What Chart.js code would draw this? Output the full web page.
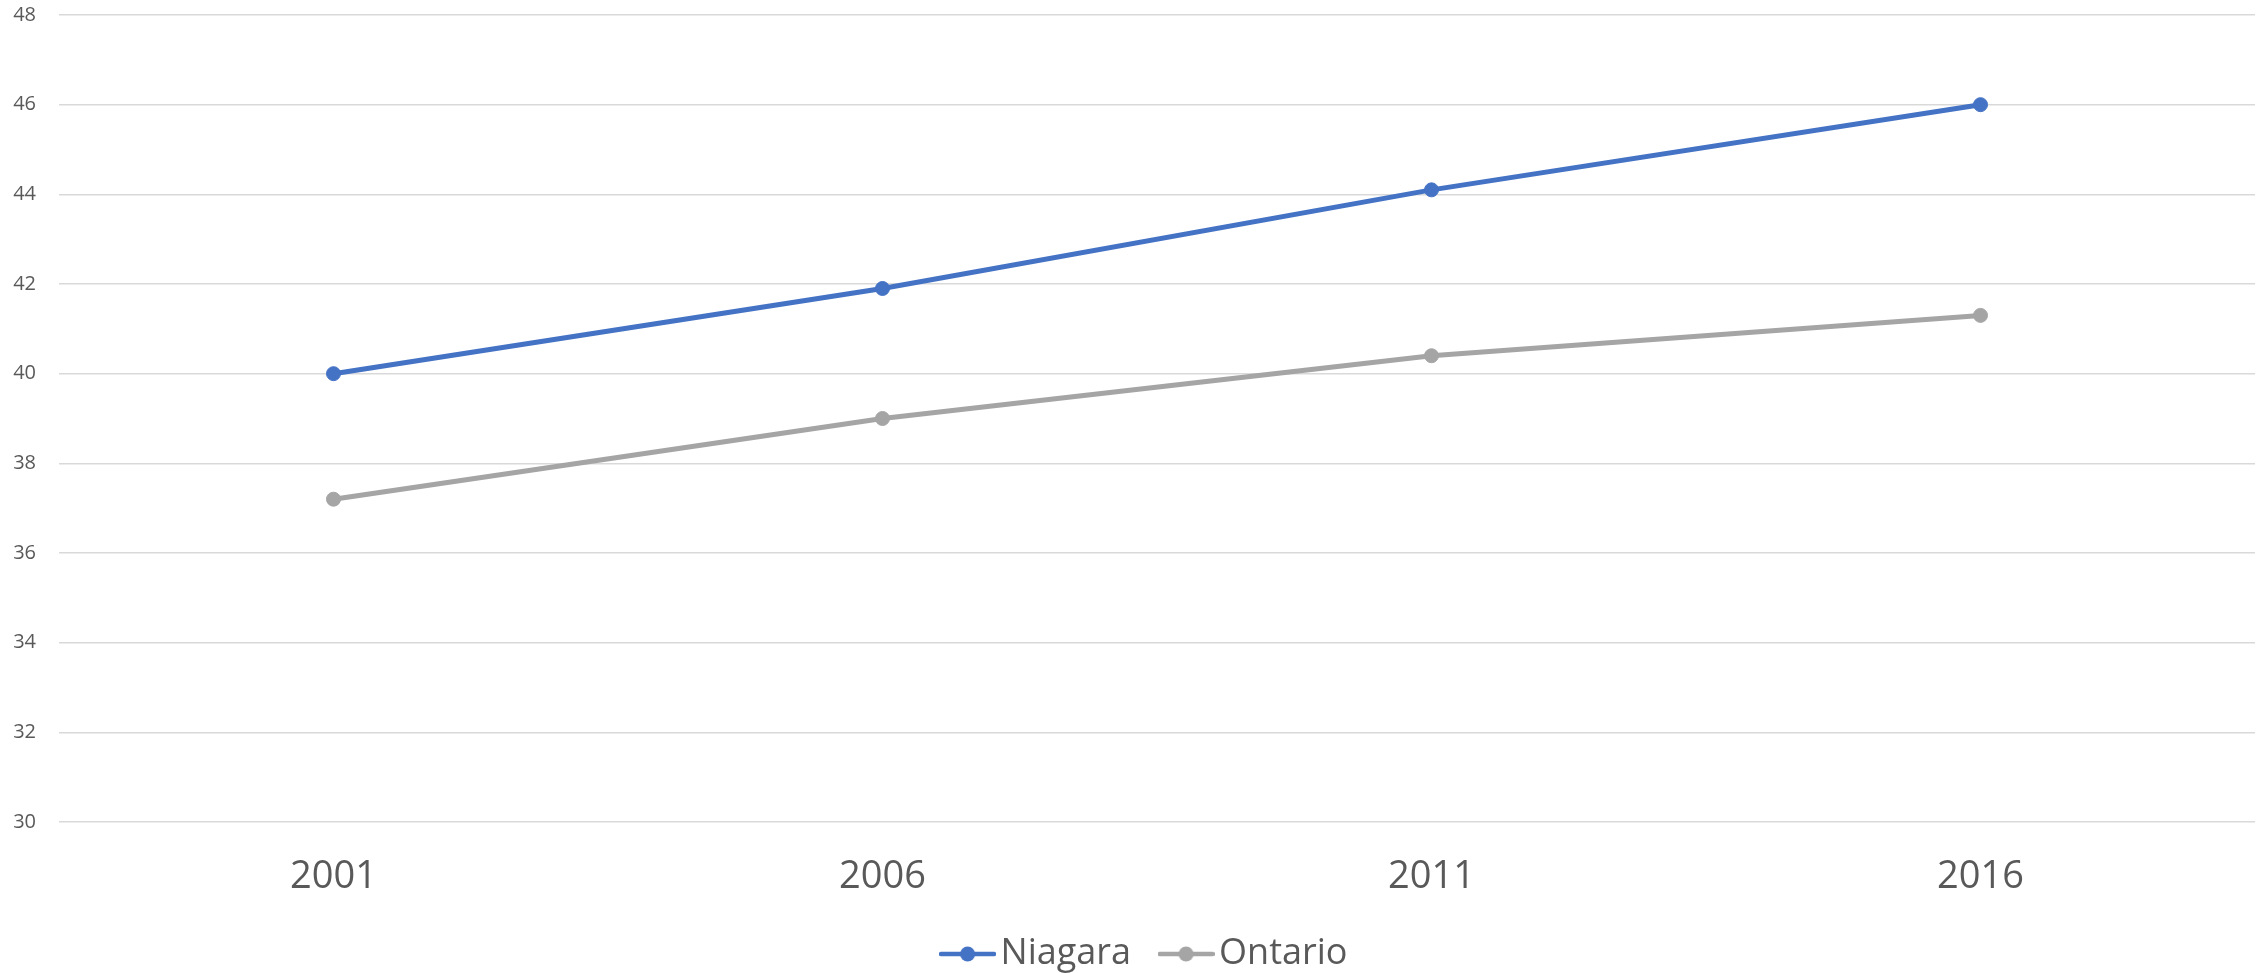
<!DOCTYPE html>
<html>
<head>
<meta charset="utf-8">
<script src="https://cdn.jsdelivr.net/npm/chart.js@4.4.1/dist/chart.umd.min.js"></script>
<style>
html,body{margin:0;padding:0;background:#fff;}
#wrap{width:2267px;height:973px;position:relative;}
</style>
</head>
<body>
<div id="wrap"><canvas id="c" width="2267" height="973"></canvas></div>
<script>
const categories = ["2001", "2006", "2011", "2016"];
const niagara = [40.0, 41.9, 44.1, 46.0];
const ontario = [37.2, 39.0, 40.4, 41.3];
const yMin = 30, yMax = 48, yStep = 2;

const BLUE = "#4472C4", GRAY = "#A5A5A5", TEXT = "#595959";
const FONT = "'Open Sans', 'Liberation Sans', sans-serif";

function legendIcon(color) {
  const c = document.createElement("canvas");
  c.width = 57; c.height = 18;
  const g = c.getContext("2d");
  g.strokeStyle = color; g.lineWidth = 4.5; g.lineCap = "round";
  g.beginPath(); g.moveTo(2, 9); g.lineTo(55, 9); g.stroke();
  g.fillStyle = color;
  g.beginPath(); g.arc(28.5, 9, 7.5, 0, Math.PI * 2); g.fill();
  return c;
}

new Chart(document.getElementById("c"), {
  type: "line",
  data: {
    labels: categories,
    datasets: [
      { label: "Niagara", data: niagara, borderColor: BLUE, backgroundColor: BLUE,
        borderWidth: 5, pointRadius: 7, pointBorderWidth: 1, pointBorderColor: BLUE,
        pointBackgroundColor: BLUE, tension: 0, pointStyle: "circle" },
      { label: "Ontario", data: ontario, borderColor: GRAY, backgroundColor: GRAY,
        borderWidth: 5, pointRadius: 7, pointBorderWidth: 1, pointBorderColor: GRAY,
        pointBackgroundColor: GRAY, tension: 0, pointStyle: "circle" }
    ]
  },
  options: {
    responsive: false,
    animation: false,
    layout: { padding: { top: 15, right: -33, left: 0, bottom: -9 } },
    plugins: {
      tooltip: { enabled: false },
      legend: {
        position: "bottom",
        labels: {
          usePointStyle: true,
          boxWidth: 30,
          boxHeight: 16,
          color: TEXT,
          padding: 40,
          font: { family: FONT, size: 36 },
          generateLabels(chart) {
            return chart.data.datasets.map((ds, i) => ({
              text: ds.label, fillStyle: ds.borderColor, strokeStyle: ds.borderColor,
              fontColor: TEXT, lineWidth: 0, pointStyle: legendIcon(ds.borderColor),
              hidden: false, datasetIndex: i
            }));
          }
        }
      }
    },
    scales: {
      x: {
        offset: true,
        afterFit(s) { s.height = 74; },
        grid: { display: false, drawTicks: false },
        border: { display: false },
        ticks: { color: TEXT, font: { family: FONT, size: 38 }, padding: 32 }
      },
      y: {
        min: yMin, max: yMax,
        afterFit(s) { s.width = 59; },
        grid: { color: "#D9D9D9", lineWidth: 1.5, drawTicks: true, tickLength: 23, tickColor: "rgba(0,0,0,0)" },
        border: { display: false },
        ticks: { stepSize: yStep, color: TEXT, font: { family: FONT, size: 20 }, padding: 0 }
      },
      yR: {
        position: "right",
        display: true,
        min: yMin, max: yMax,
        afterFit(s) { s.width = 45; },
        grid: { display: false, drawTicks: false },
        border: { display: false },
        ticks: { display: false, padding: 0 }
      }
    }
  }
});
</script>
</body>
</html>
